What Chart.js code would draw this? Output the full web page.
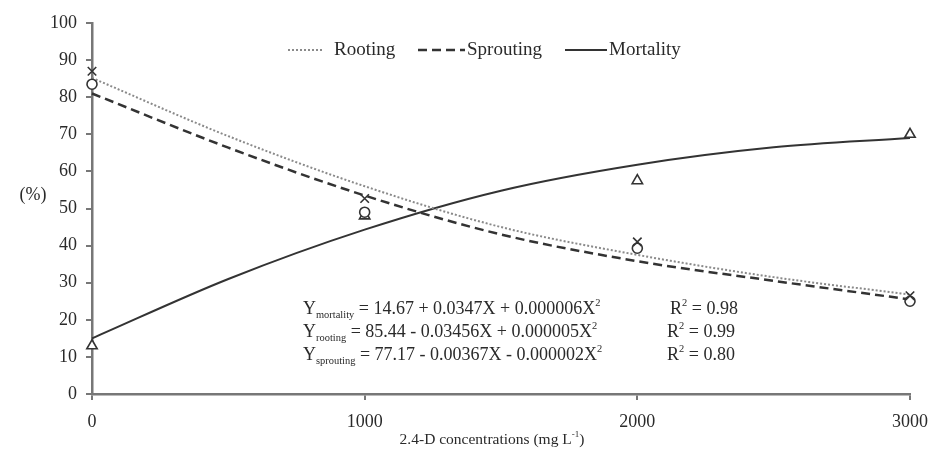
<!DOCTYPE html>
<html>
<head>
<meta charset="utf-8">
<script src="https://cdn.jsdelivr.net/npm/chart.js@4.4.1/dist/chart.umd.min.js"></script>
<style>
  html, body { margin: 0; padding: 0; background: #fff; }
  #wrap { width: 930px; height: 454px; }
</style>
</head>
<body>
<div id="wrap"><canvas id="chart" width="930" height="454"></canvas></div>
<script>
// observed means (markers)
const concentrations = [0, 1000, 2000, 3000];
const rootingObs = [87, 52.7, 41, 26.5];
const sproutingObs = [83.5, 49, 39.3, 25];
const mortalityObs = [13, 48, 57.5, 70];

// fitted curves
const fitX = [0, 500, 1000, 1500, 2000, 2500, 3000];
const rootingFit = [85.2, 69.5, 56, 45, 37.5, 31.5, 26.8];
const sproutingFit = [81, 66.4, 53.5, 43, 35.8, 30.5, 25.5];
const mortalityFit = [15, 31, 44.3, 54.8, 61.8, 66.5, 69];

const xTickValues = [0, 1000, 2000, 3000];
const yTickValues = [0, 10, 20, 30, 40, 50, 60, 70, 80, 90, 100];

const legendLabels = ['Rooting', 'Sprouting', 'Mortality'];
const xTitle = '2.4-D concentrations (mg L';
const yTitle = '(%)';
const equationRows = [
    [{ t: 'Y' }, { t: 'mortality', sub: true }, { t: ' = 14.67 + 0.0347X + 0.000006X' }, { t: '2', sup: true }],
    [{ t: 'Y' }, { t: 'rooting', sub: true }, { t: ' = 85.44 - 0.03456X + 0.000005X' }, { t: '2', sup: true }],
    [{ t: 'Y' }, { t: 'sprouting', sub: true }, { t: ' = 77.17 - 0.00367X - 0.000002X' }, { t: '2', sup: true }]
];
const r2Values = ['0.98', '0.99', '0.80'];

const SERIF = '"Liberation Serif", "Times New Roman", serif';
const INK = '#2a2a2a';

function pairs(xs, ys) {
    return xs.map((x, i) => ({ x: x, y: ys[i] }));
}

// draws text pieces with sub/superscripts, returns width
function drawRich(ctx, parts, x, y, size, measureOnly) {
    let cx = x;
    parts.forEach(p => {
        const s = (p.sub || p.sup) ? size * 0.58 : size;
        ctx.font = `${s}px ${SERIF}`;
        const dy = p.sub ? size * 0.32 : (p.sup ? -size * 0.33 : 0);
        if (!measureOnly) ctx.fillText(p.t, cx, y + dy);
        cx += ctx.measureText(p.t).width;
    });
    return cx - x;
}

const annotations = {
    id: 'annotations',
    afterDraw(chart) {
        const ctx = chart.ctx;
        ctx.save();
        ctx.fillStyle = INK;
        ctx.textBaseline = 'middle';
        ctx.textAlign = 'left';

        // legend
        const ly = 50;
        const samples = [
            { x0: 288, x1: 324, tx: 334, dash: [2, 2], color: '#8a8a8a', w: 2 },
            { x0: 418, x1: 465, tx: 467, dash: [9, 5], color: '#333', w: 2.5 },
            { x0: 565, x1: 607, tx: 609, dash: [], color: '#333', w: 2 }
        ];
        samples.forEach((s, i) => {
            ctx.beginPath();
            ctx.setLineDash(s.dash);
            ctx.strokeStyle = s.color;
            ctx.lineWidth = s.w;
            ctx.moveTo(s.x0, ly);
            ctx.lineTo(s.x1, ly);
            ctx.stroke();
            ctx.setLineDash([]);
            ctx.font = `19px ${SERIF}`;
            ctx.fillText(legendLabels[i], s.tx, ly);
        });

        // y title
        ctx.font = `18px ${SERIF}`;
        ctx.textAlign = 'center';
        ctx.fillText(yTitle, 33, 195);
        ctx.textAlign = 'left';

        // x title
        const titleParts = [{ t: xTitle }, { t: '-1', sup: true }, { t: ')' }];
        const tw = drawRich(ctx, titleParts, 0, 0, 15.5, true);
        drawRich(ctx, titleParts, 492 - tw / 2, 440, 15.5);

        // regression equations
        const rowY = [309, 332, 355];
        const rX = [670, 667, 667];
        equationRows.forEach((row, i) => {
            drawRich(ctx, row, 303, rowY[i], 18);
            drawRich(ctx, [{ t: 'R' }, { t: '2', sup: true }, { t: ' = ' + r2Values[i] }], rX[i], rowY[i], 18);
        });
        ctx.restore();
    }
};

const markerBase = {
    type: 'scatter',
    showLine: false,
    clip: false,
    pointRadius: 5,
    pointBorderWidth: 1.6,
    pointBorderColor: '#333',
    pointBackgroundColor: '#fff'
};

const lineBase = {
    type: 'scatter',
    showLine: true,
    clip: false,
    pointRadius: 0,
    fill: false,
    cubicInterpolationMode: 'monotone'
};

new Chart(document.getElementById('chart'), {
    type: 'scatter',
    data: {
        datasets: [
            Object.assign({}, markerBase, { label: 'Rooting obs', data: pairs(concentrations, rootingObs), pointStyle: 'crossRot', pointRadius: 6 }),
            Object.assign({}, markerBase, { label: 'Sprouting obs', data: pairs(concentrations, sproutingObs), pointStyle: 'circle' }),
            Object.assign({}, markerBase, { label: 'Mortality obs', data: pairs(concentrations, mortalityObs), pointStyle: 'triangle', pointRadius: 6 }),
            Object.assign({}, lineBase, { label: 'Rooting', data: pairs(fitX, rootingFit), borderColor: '#8a8a8a', borderWidth: 2, borderDash: [2, 2] }),
            Object.assign({}, lineBase, { label: 'Sprouting', data: pairs(fitX, sproutingFit), borderColor: '#333', borderWidth: 2.5, borderDash: [9, 5] }),
            Object.assign({}, lineBase, { label: 'Mortality', data: pairs(fitX, mortalityFit), borderColor: '#333', borderWidth: 2 })
        ]
    },
    options: {
        responsive: false,
        animation: false,
        devicePixelRatio: 1,
        layout: { padding: { top: 23, right: 20, left: 0, bottom: 0 } },
        plugins: {
            legend: { display: false },
            tooltip: { enabled: false }
        },
        scales: {
            x: {
                type: 'linear',
                min: 0,
                max: 3000,
                afterFit: s => { s.height = 60; s.paddingLeft = 0; s.paddingRight = 0; },
                afterBuildTicks: s => { s.ticks = xTickValues.map(v => ({ value: v })); },
                ticks: { color: INK, padding: 11, font: { family: SERIF, size: 18 }, maxRotation: 0, callback: v => String(v) },
                grid: { drawOnChartArea: false, drawTicks: true, tickLength: 6, color: '#777', lineWidth: 2 },
                border: { display: true, color: '#777', width: 2.5 }
            },
            y: {
                min: 0,
                max: 100,
                afterFit: s => { s.width = 92; s.paddingTop = 0; s.paddingBottom = 0; },
                afterBuildTicks: s => { s.ticks = yTickValues.map(v => ({ value: v })); },
                ticks: { color: INK, padding: 9, font: { family: SERIF, size: 18 }, callback: v => String(v) },
                grid: { drawOnChartArea: false, drawTicks: true, tickLength: 6, color: '#777', lineWidth: 2 },
                border: { display: true, color: '#777', width: 2.5 }
            }
        }
    },
    plugins: [annotations]
});
</script>
</body>
</html>
